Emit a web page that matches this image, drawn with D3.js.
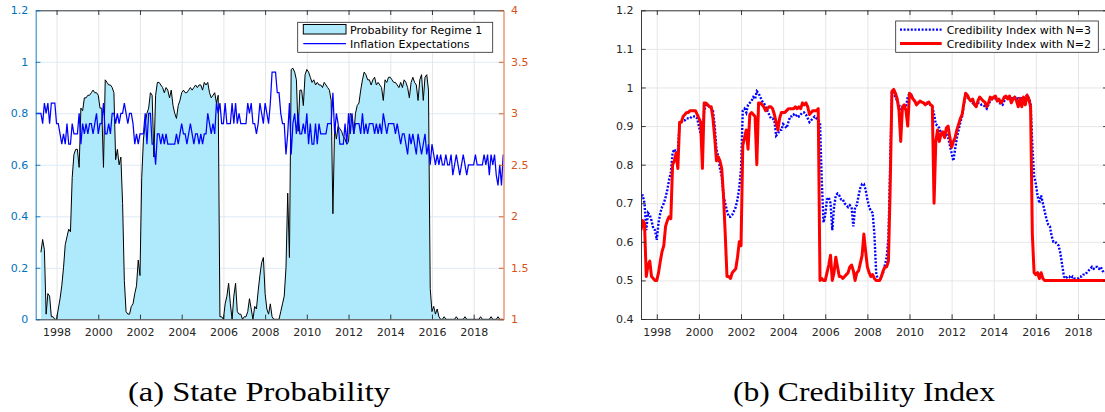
<!DOCTYPE html>
<html>
<head>
<meta charset="utf-8">
<script src="https://cdn.jsdelivr.net/npm/d3@7"></script>
<style>
  body { margin: 0; background: #fff; }
  svg { display: block; }
  text { font-family: "DejaVu Sans", sans-serif; }
</style>
</head>
<body>
<svg id="fig" width="1105" height="412"></svg>
<script>
// ---- data, monthly ----
// probability of regime 1, from Apr 1997
var probStart = [1997, 4];
var probRegime1 = [
  0.26, 0.31, 0.27, 0.02, 0.10, 0.09, 0.01, 0.01, 0.00,
  0.00, 0.04, 0.08, 0.13, 0.20, 0.29, 0.32, 0.35, 0.34, 0.55, 0.64, 0.66,
  0.66, 0.59, 0.82, 0.81, 0.86, 0.86, 0.87, 0.87, 0.88, 0.89, 0.88, 0.88,
  0.87, 0.82, 0.82, 0.59, 0.93, 0.92, 0.91, 0.91, 0.90, 0.88, 0.62, 0.66,
  0.60, 0.63, 0.45, 0.15, 0.03, 0.02, 0.02, 0.05, 0.06, 0.10, 0.13, 0.23,
  0.17, 0.55, 0.70, 0.76, 0.80, 0.82, 0.88, 0.87, 0.63, 0.87, 0.92, 0.92,
  0.91, 0.90, 0.88, 0.90, 0.89, 0.86, 0.89, 0.83, 0.80, 0.78, 0.83, 0.85,
  0.88, 0.89, 0.88, 0.88, 0.89, 0.90, 0.89, 0.90, 0.91, 0.90, 0.91, 0.91,
  0.89, 0.92, 0.91, 0.92, 0.88, 0.86, 0.87, 0.88, 0.84, 0.87, 0.01, 0.01,
  0.00, 0.06, 0.09, 0.14, 0.06, 0.00, 0.09, 0.14, 0.03, 0.02, 0.02, 0.00,
  0.01, 0.01, 0.03, 0.08, 0.04, 0.00, 0.05, 0.04, 0.11, 0.17, 0.22, 0.24,
  0.10, 0.04, 0.02, 0.06, 0.01, 0.00, 0.00, 0.00, 0.00, 0.03, 0.06, 0.09,
  0.20, 0.49, 0.24, 0.97, 0.975, 0.96, 0.93, 0.73, 0.89, 0.89, 0.83, 0.95,
  0.97, 0.96, 0.94, 0.92, 0.93, 0.91, 0.92, 0.91, 0.91, 0.90, 0.92, 0.91,
  0.90, 0.89, 0.85, 0.41, 0.75, 0.70, 0.75, 0.74, 0.73, 0.71, 0.70, 0.68,
  0.69, 0.80, 0.79, 0.72, 0.80, 0.83, 0.84, 0.89, 0.93, 0.96, 0.95, 0.93,
  0.93, 0.91, 0.93, 0.94, 0.91, 0.92, 0.91, 0.90, 0.85, 0.93, 0.92, 0.94,
  0.94, 0.93, 0.92, 0.92, 0.91, 0.90, 0.92, 0.90, 0.93, 0.92, 0.90, 0.86,
  0.92, 0.94, 0.92, 0.91, 0.85, 0.93, 0.95, 0.85, 0.94, 0.95, 0.89, 0.12,
  0.03, 0.05, 0.02, 0.04, 0.01, 0.00, 0.00, 0.01, 0.00, 0.00, 0.00, 0.00,
  0.00, 0.00, 0.01, 0.00, 0.00, 0.00, 0.00, 0.01, 0.00, 0.00, 0.00, 0.00,
  0.00, 0.00, 0.00, 0.00, 0.01, 0.00, 0.00, 0.00, 0.00, 0.00, 0.01, 0.00,
  0.00, 0.00, 0.01, 0.00, 0.00, 0.00
];

// inflation expectations (right axis), from Jan 1997
var inflStart = [1997, 1];
var inflExpect = [
  3.0, 3.0, 3.0, 3.0, 2.9, 3.1, 3.0, 3.1, 2.9, 3.1, 3.1, 3.1,
  2.9, 2.9, 2.8, 2.7, 2.8, 2.7, 2.9, 2.7, 2.7, 2.9, 2.8, 2.8,
  2.8, 3.0, 2.7, 2.9, 2.8, 2.9, 2.8, 2.9, 2.9, 2.8, 2.9, 3.0,
  2.8, 2.9, 2.9, 3.1, 2.8, 2.8, 2.9, 2.8, 3.0, 3.0, 2.9, 3.0,
  2.9, 3.0, 3.0, 3.1, 3.0, 2.9, 3.0, 3.0, 2.9, 2.7, 2.8, 2.7,
  2.8, 2.8, 2.8, 3.0, 2.7, 3.0, 3.0, 2.7, 2.7, 2.5, 2.8, 2.8,
  2.7, 2.8, 2.7, 2.8, 2.7, 2.7, 2.7, 2.7, 2.7, 2.8, 2.7, 2.8,
  2.9, 2.8, 2.8, 2.7, 2.8, 2.9, 2.8, 2.7, 2.8, 2.8, 2.7, 2.8,
  2.7, 2.8, 2.8, 3.0, 2.9, 2.8, 2.9, 2.8, 3.1, 3.0, 3.1, 2.9,
  2.9, 3.1, 2.9, 2.9, 2.9, 3.1, 2.9, 3.1, 2.9, 3.0, 2.9, 2.9,
  2.9, 2.9, 3.1, 3.0, 3.1, 2.9, 2.9, 2.8, 2.9, 3.1, 3.0, 2.9,
  3.1, 3.0, 2.9, 3.1, 3.4, 3.4, 3.4, 3.2, 3.2, 3.0, 2.9, 2.9,
  2.6, 2.8, 3.1, 2.6, 2.9, 3.0, 2.8, 3.0, 2.8, 2.8, 2.9, 2.8,
  3.0, 2.7, 2.9, 2.7, 2.7, 2.9, 2.7, 2.9, 2.8, 2.8, 2.8, 2.8,
  2.9, 2.9, 2.9, 3.2, 2.8, 3.0, 2.9, 2.7, 2.7, 2.7, 2.9, 2.7,
  3.0, 2.8, 3.0, 2.8, 2.9, 2.9, 2.9, 2.8, 3.0, 2.8, 2.9, 2.8,
  2.9, 2.9, 2.9, 2.8, 2.9, 2.8, 2.9, 2.8, 3.0, 2.9, 2.8, 2.9,
  2.9, 2.9, 2.9, 2.8, 2.9, 2.8, 2.7, 2.8, 2.8, 2.7, 2.6, 2.8,
  2.7, 2.8, 2.7, 2.6, 2.8, 2.7, 2.6, 2.7, 2.8, 2.6, 2.7, 2.5,
  2.7, 2.6, 2.5, 2.6, 2.5, 2.6, 2.5, 2.5, 2.6, 2.5, 2.5, 2.6,
  2.4, 2.5, 2.6, 2.5, 2.4, 2.5, 2.6, 2.5, 2.4, 2.5, 2.5, 2.5,
  2.5, 2.6, 2.5, 2.5, 2.5, 2.5, 2.6, 2.5, 2.6, 2.4, 2.6, 2.5,
  2.6, 2.4, 2.3, 2.5, 2.3, 2.6
];

// credibility indices, from Apr 1997
var credStart = [1997, 4];
var credN3 = [
  0.72, 0.72, 0.70, 0.63, 0.675, 0.67, 0.655, 0.635, 0.63,
  0.605, 0.65, 0.675, 0.69, 0.70, 0.715, 0.735, 0.76, 0.78, 0.83, 0.84, 0.83,
  0.835, 0.905, 0.91, 0.915, 0.915, 0.92, 0.92, 0.92, 0.925, 0.925, 0.925, 0.92,
  0.90, 0.88, 0.88, 0.94, 0.955, 0.955, 0.95, 0.945, 0.94, 0.90, 0.84, 0.82,
  0.79, 0.77, 0.72, 0.70, 0.68, 0.665, 0.665, 0.67, 0.68, 0.69, 0.71, 0.74,
  0.79, 0.94, 0.945, 0.935, 0.955, 0.96, 0.965, 0.975, 0.97, 0.99, 0.985, 0.975,
  0.965, 0.96, 0.95, 0.94, 0.93, 0.92, 0.92, 0.915, 0.875, 0.88, 0.89, 0.89,
  0.905, 0.90, 0.895, 0.91, 0.925, 0.925, 0.93, 0.925, 0.93, 0.925, 0.93, 0.935,
  0.935, 0.93, 0.92, 0.91, 0.915, 0.92, 0.925, 0.92, 0.915, 0.91, 0.76, 0.65,
  0.67, 0.71, 0.715, 0.70, 0.63, 0.69, 0.72, 0.725, 0.72, 0.71, 0.71, 0.70,
  0.695, 0.69, 0.695, 0.69, 0.64, 0.69, 0.695, 0.72, 0.74, 0.75, 0.75, 0.735,
  0.71, 0.69, 0.68, 0.675, 0.62, 0.52, 0.50, 0.50, 0.51, 0.52, 0.54, 0.56,
  0.61, 0.80, 0.99, 0.985, 0.975, 0.965, 0.955, 0.945, 0.945, 0.945, 0.95, 0.975,
  0.985, 0.98, 0.97, 0.965, 0.96, 0.96, 0.963, 0.963, 0.96, 0.958, 0.958, 0.958,
  0.955, 0.95, 0.93, 0.905, 0.90, 0.895, 0.88, 0.88, 0.87, 0.88, 0.87, 0.85,
  0.83, 0.81, 0.84, 0.87, 0.89, 0.91, 0.925, 0.955, 0.98, 0.975, 0.97, 0.965,
  0.96, 0.955, 0.955, 0.96, 0.96, 0.955, 0.955, 0.95, 0.945, 0.955, 0.965, 0.97,
  0.97, 0.972, 0.965, 0.96, 0.958, 0.955, 0.965, 0.975, 0.972, 0.97, 0.972, 0.972,
  0.975, 0.97, 0.972, 0.97, 0.972, 0.97, 0.975, 0.98, 0.972, 0.96, 0.85, 0.77,
  0.75, 0.72, 0.70, 0.72, 0.70, 0.68, 0.66, 0.645, 0.64, 0.615, 0.60, 0.60,
  0.595, 0.59, 0.57, 0.54, 0.51, 0.505, 0.51, 0.51, 0.505, 0.51, 0.505, 0.505,
  0.505, 0.51, 0.51, 0.515, 0.515, 0.52, 0.525, 0.53, 0.535, 0.53, 0.535, 0.535,
  0.53, 0.535, 0.525, 0.52, 0.52, 0.52
];
var credN2 = [
  0.63, 0.655, 0.648, 0.51, 0.54, 0.55, 0.51, 0.505, 0.50,
  0.50, 0.52, 0.55, 0.575, 0.59, 0.64, 0.655, 0.665, 0.66, 0.80, 0.81, 0.83,
  0.79, 0.91, 0.91, 0.925, 0.93, 0.935, 0.935, 0.94, 0.94, 0.94, 0.94, 0.93,
  0.92, 0.91, 0.79, 0.96, 0.96, 0.955, 0.95, 0.95, 0.92, 0.87, 0.81, 0.82,
  0.81, 0.79, 0.72, 0.62, 0.51, 0.51, 0.505, 0.52, 0.525, 0.53, 0.56, 0.60,
  0.59, 0.85, 0.87, 0.89, 0.84, 0.93, 0.935, 0.93, 0.925, 0.80, 0.96, 0.96,
  0.955, 0.95, 0.94, 0.945, 0.95, 0.95, 0.945, 0.93, 0.91, 0.89, 0.92, 0.935,
  0.935, 0.935, 0.94, 0.945, 0.945, 0.945, 0.945, 0.95, 0.945, 0.95, 0.945, 0.96,
  0.955, 0.96, 0.95, 0.93, 0.935, 0.94, 0.94, 0.94, 0.945, 0.50, 0.505, 0.50,
  0.50, 0.52, 0.54, 0.565, 0.50, 0.52, 0.56, 0.535, 0.51, 0.51, 0.505, 0.51,
  0.515, 0.52, 0.535, 0.54, 0.525, 0.50, 0.52, 0.525, 0.545, 0.565, 0.62, 0.575,
  0.535, 0.52, 0.51, 0.515, 0.505, 0.50, 0.50, 0.50, 0.51, 0.525, 0.535, 0.535,
  0.55, 0.74, 0.99, 0.995, 0.985, 0.97, 0.94, 0.86, 0.95, 0.955, 0.94, 0.90,
  0.985, 0.98, 0.97, 0.965, 0.955, 0.96, 0.965, 0.962, 0.96, 0.955, 0.96, 0.962,
  0.955, 0.952, 0.70, 0.86, 0.89, 0.86, 0.88, 0.885, 0.87, 0.895, 0.90, 0.87,
  0.845, 0.86, 0.87, 0.89, 0.905, 0.92, 0.93, 0.96, 0.985, 0.98, 0.97, 0.965,
  0.97, 0.955, 0.95, 0.965, 0.975, 0.97, 0.965, 0.962, 0.95, 0.96, 0.975, 0.97,
  0.975, 0.978, 0.965, 0.97, 0.96, 0.965, 0.975, 0.978, 0.97, 0.978, 0.96, 0.97,
  0.975, 0.965, 0.95, 0.972, 0.95, 0.975, 0.955, 0.98, 0.97, 0.95, 0.62, 0.52,
  0.515, 0.52, 0.505, 0.52, 0.505, 0.50, 0.50, 0.50, 0.50, 0.50, 0.50, 0.50,
  0.50, 0.50, 0.50, 0.50, 0.50, 0.50, 0.50, 0.50, 0.50, 0.50, 0.50, 0.50,
  0.50, 0.50, 0.50, 0.50, 0.50, 0.50, 0.50, 0.50, 0.50, 0.50, 0.50, 0.50,
  0.50, 0.50, 0.50, 0.50, 0.50, 0.50
];

// tick labels
var yearTicks = [1998, 2000, 2002, 2004, 2006, 2008, 2010, 2012, 2014, 2016, 2018];
var probTicks = [0, 0.2, 0.4, 0.6, 0.8, 1, 1.2];
var inflTicks = [1, 1.5, 2, 2.5, 3, 3.5, 4];
var credTicks = [0.4, 0.5, 0.6, 0.7, 0.8, 0.9, 1, 1.1, 1.2];

// turn a monthly list into {t, v} points (t in fractional years)
function monthly(start, vals) {
  return vals.map(function (v, i) {
    return { t: start[0] + (start[1] - 1 + i) / 12, v: v };
  });
}

var svg = d3.select("#fig");
var dark = "#262626", blueAx = "#0072BD", orangeAx = "#D95319";
var fmt = function (d) { return String(+d.toFixed(1)); };
var tick = 4.7;

// style an axis group: colour of spine, ticks and labels
function styleAxis(g, col) {
  g.select(".domain").attr("stroke", col).attr("stroke-width", 0.9);
  g.selectAll(".tick line").attr("stroke", col).attr("stroke-width", 0.9);
  g.selectAll(".tick text").attr("fill", col)
    .style("font-family", "'DejaVu Sans', sans-serif").style("font-size", "11px");
  g.attr("font-family", null).attr("font-size", null);
}

function grid(g, axis, col) {
  g.call(axis);
  g.select(".domain").remove();
  g.selectAll(".tick line").attr("stroke", col).attr("stroke-width", 0.9);
  g.selectAll(".tick text").remove();
}

// ================= (a) State Probability =================
var aL = 35.7, aR = 503.5, aT = 10.3, aB = 319.3;
var xA = d3.scaleLinear().domain([1997, 2019.43]).range([aL, aR]);
var yA = d3.scaleLinear().domain([0, 1.2]).range([aB, aT]);
var yA2 = d3.scaleLinear().domain([1, 4]).range([aB, aT]);

svg.append("clipPath").attr("id", "clipA").append("rect")
  .attr("x", aL).attr("y", aT).attr("width", aR - aL).attr("height", aB - aT);

var gA = svg.append("g");
grid(gA.append("g").attr("transform", "translate(0," + aB + ")"),
  d3.axisBottom(xA).tickValues(yearTicks).tickSize(-(aB - aT)).tickFormat(""), "#e3e3e3");
grid(gA.append("g").attr("transform", "translate(" + aL + ",0)"),
  d3.axisLeft(yA).tickValues(probTicks).tickSize(-(aR - aL)).tickFormat(""), "#d9e9f5");

var probPts = monthly(probStart, probRegime1);
var plotA = gA.append("g").attr("clip-path", "url(#clipA)");
plotA.append("path").datum(probPts)
  .attr("d", d3.area().x(function (d) { return xA(d.t); }).y0(yA(0)).y1(function (d) { return yA(d.v); }))
  .attr("fill", "#aeeafb");
plotA.append("path").datum(probPts)
  .attr("d", d3.line().x(function (d) { return xA(d.t); }).y(function (d) { return yA(d.v); }))
  .attr("fill", "none").attr("stroke", "#000").attr("stroke-width", 1);
plotA.append("path").datum(monthly(inflStart, inflExpect))
  .attr("d", d3.line().x(function (d) { return xA(d.t); }).y(function (d) { return yA2(d.v); }))
  .attr("fill", "none").attr("stroke", "#0000ff").attr("stroke-width", 1.25);

var axAB = gA.append("g").attr("transform", "translate(0," + aB + ")")
  .call(d3.axisBottom(xA).tickValues(yearTicks).tickSize(-tick).tickSizeOuter(0).tickPadding(9).tickFormat(d3.format("d")));
styleAxis(axAB, dark);
var axAT = gA.append("g").attr("transform", "translate(0," + aT + ")")
  .call(d3.axisTop(xA).tickValues(yearTicks).tickSize(-tick).tickSizeOuter(0).tickFormat(""));
styleAxis(axAT, dark);
var axAL = gA.append("g").attr("transform", "translate(" + aL + ",0)")
  .call(d3.axisLeft(yA).tickValues(probTicks).tickSize(-tick).tickSizeOuter(0).tickPadding(7.5).tickFormat(fmt));
styleAxis(axAL, blueAx);
var axAR = gA.append("g").attr("transform", "translate(" + aR + ",0)")
  .call(d3.axisRight(yA2).tickValues(inflTicks).tickSize(-tick).tickSizeOuter(0).tickPadding(7.5).tickFormat(fmt));
styleAxis(axAR, orangeAx);

// legend (a)
var lgA = gA.append("g");
lgA.append("rect").attr("x", 297.7).attr("y", 22.3).attr("width", 195).attr("height", 30)
  .attr("fill", "#fff").attr("stroke", dark).attr("stroke-width", 0.8);
lgA.append("rect").attr("x", 303.3).attr("y", 24.5).attr("width", 42.7).attr("height", 9.5)
  .attr("fill", "#aeeafb").attr("stroke", "#000").attr("stroke-width", 1);
lgA.append("line").attr("x1", 303.3).attr("x2", 346).attr("y1", 43.5).attr("y2", 43.5)
  .attr("stroke", "#0000ff").attr("stroke-width", 1.25);
lgA.append("text").attr("x", 350).attr("y", 34).attr("font-size", 11).attr("fill", "#000")
  .text("Probability for Regime 1");
lgA.append("text").attr("x", 350).attr("y", 47.7).attr("font-size", 11).attr("fill", "#000")
  .text("Inflation Expectations");

// ================= (b) Credibility Index =================
var bL = 641, bR = 1107.8, bT = 10.3, bB = 319;
var xB = d3.scaleLinear().domain([1997.25, 2019.417]).range([bL, bR]);
var yB = d3.scaleLinear().domain([0.4, 1.2]).range([bB, bT]);

svg.append("clipPath").attr("id", "clipB").append("rect")
  .attr("x", bL).attr("y", bT).attr("width", bR - bL).attr("height", bB - bT);

var gB = svg.append("g");
grid(gB.append("g").attr("transform", "translate(0," + bB + ")"),
  d3.axisBottom(xB).tickValues(yearTicks).tickSize(-(bB - bT)).tickFormat(""), "#e3e3e3");
grid(gB.append("g").attr("transform", "translate(" + bL + ",0)"),
  d3.axisLeft(yB).tickValues(credTicks).tickSize(-(bR - bL)).tickFormat(""), "#e3e3e3");

var plotB = gB.append("g").attr("clip-path", "url(#clipB)");
var lineB = d3.line().x(function (d) { return xB(d.t); }).y(function (d) { return yB(d.v); });
plotB.append("path").datum(monthly(credStart, credN3)).attr("d", lineB)
  .attr("fill", "none").attr("stroke", "#0000ff").attr("stroke-width", 2.4)
  .attr("stroke-dasharray", "2,1.6");
plotB.append("path").datum(monthly(credStart, credN2)).attr("d", lineB)
  .attr("fill", "none").attr("stroke", "#ff0000").attr("stroke-width", 3)
  .attr("stroke-linejoin", "round");

var axBB = gB.append("g").attr("transform", "translate(0," + bB + ")")
  .call(d3.axisBottom(xB).tickValues(yearTicks).tickSize(-tick).tickSizeOuter(0).tickPadding(9).tickFormat(d3.format("d")));
styleAxis(axBB, dark);
var axBT = gB.append("g").attr("transform", "translate(0," + bT + ")")
  .call(d3.axisTop(xB).tickValues(yearTicks).tickSize(-tick).tickSizeOuter(0).tickFormat(""));
styleAxis(axBT, dark);
var axBL = gB.append("g").attr("transform", "translate(" + bL + ",0)")
  .call(d3.axisLeft(yB).tickValues(credTicks).tickSize(-tick).tickSizeOuter(0).tickPadding(7.5).tickFormat(fmt));
styleAxis(axBL, dark);
var axBR = gB.append("g").attr("transform", "translate(" + bR + ",0)")
  .call(d3.axisRight(yB).tickValues(credTicks).tickSize(-tick).tickSizeOuter(0).tickFormat(""));
styleAxis(axBR, dark);

// legend (b)
var lgB = gB.append("g");
lgB.append("rect").attr("x", 895.7).attr("y", 21).attr("width", 202.6).attr("height", 31.3)
  .attr("fill", "#fff").attr("stroke", dark).attr("stroke-width", 0.8);
lgB.append("line").attr("x1", 900).attr("x2", 941.7).attr("y1", 29.6).attr("y2", 29.6)
  .attr("stroke", "#0000ff").attr("stroke-width", 2.4).attr("stroke-dasharray", "2,1.6");
lgB.append("line").attr("x1", 900).attr("x2", 941.7).attr("y1", 43.5).attr("y2", 43.5)
  .attr("stroke", "#ff0000").attr("stroke-width", 3);
lgB.append("text").attr("x", 946.7).attr("y", 34).attr("font-size", 11).attr("fill", "#000")
  .text("Credibility Index with N=3");
lgB.append("text").attr("x", 946.7).attr("y", 47.7).attr("font-size", 11).attr("fill", "#000")
  .text("Credibility Index with N=2");

// ================= captions =================
function caption(x, s) {
  svg.append("text").attr("x", x).attr("y", 401).attr("text-anchor", "middle")
    .style("font-family", "'Liberation Serif', 'DejaVu Serif', serif").style("font-size", "27px")
    .attr("fill", "#000").attr("textLength", 262).attr("lengthAdjust", "spacingAndGlyphs")
    .text(s);
}
caption(259, "(a) State Probability");
caption(864, "(b) Credibility Index");
</script>
</body>
</html>
